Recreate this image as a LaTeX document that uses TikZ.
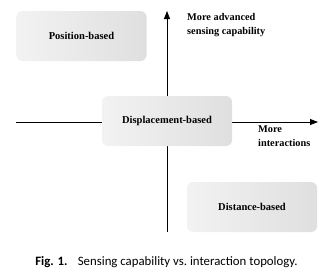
\documentclass[tikz,border=0pt]{standalone}
\usepackage{fontspec}
\setmainfont{Liberation Serif}
\newfontfamily\capfont{Carlito}
\usetikzlibrary{arrows.meta}
\begin{document}
\begin{tikzpicture}[x=1pt,y=-1pt,
  qbox/.style={rounded corners=6pt,left color=gray!10,right color=gray!25,draw=none,
    minimum width=130pt,minimum height=50pt,font=\bfseries\fontsize{10.5}{12}\selectfont},
  axis/.style={line width=0.8pt,-{Triangle[length=8pt,width=6pt]}},
  lbl/.style={font=\bfseries\fontsize{10.3}{14}\selectfont,align=left,anchor=north west,inner sep=0pt}]
\useasboundingbox (0,0) rectangle (334,269);
\node[qbox] (pos) at (81.5,36) {Position-based};
\node[qbox] (dist) at (252,207) {Distance-based};
\coordinate (ybot) at (167,232);
\coordinate (ytop) at (167,11);
\coordinate (xl) at (16,122);
\coordinate (xr) at (318,122);
\draw[axis] (ybot) -- (ytop);
\draw[axis] (xl) -- (xr);
\node[qbox] (disp) at (167,121) {Displacement-based};
\node[lbl] (up) at (187,13) {More advanced\\sensing capability};
\node[lbl] (right) at (258,126) {More\\interactions};
\node[font=\capfont\fontsize{12.8}{14}\selectfont,inner sep=0pt] (cap) at (166.5,262) {\textbf{Fig. 1.}\hspace{0.8em}Sensing capability vs.\ interaction topology.};
\end{tikzpicture}
\end{document}
